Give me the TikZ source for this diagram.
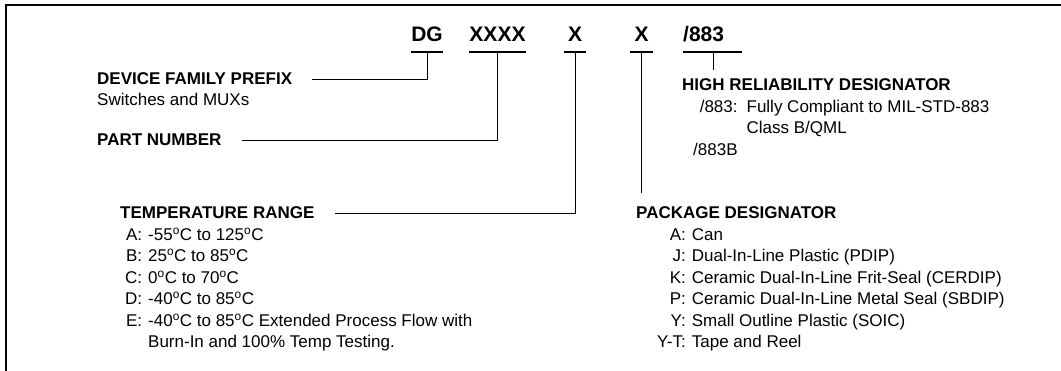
\documentclass[tikz,border=0pt]{standalone}
\usepackage{fontspec}
\setmainfont{Liberation Sans}
\usepackage{tikz}
\usetikzlibrary{positioning}
\newcommand{\degC}{\textsuperscript{o}C}

\begin{document}
\begin{tikzpicture}[
  x=1pt,y=-1pt,
  code/.style={font=\fontsize{21}{21}\selectfont\bfseries,inner sep=0pt,anchor=base},
  head/.style={font=\fontsize{17}{21.5}\selectfont\bfseries,inner sep=0pt,text height=12pt,text depth=0pt,anchor=base west},
  list/.style={font=\fontsize{17}{21.5}\selectfont,inner sep=0pt,anchor=base west},
  uline/.style={line width=1.3pt},
  conn/.style={line width=0.9pt},
  frame/.style={line width=2pt}
]
\useasboundingbox (0,0) rectangle (1061,371);
\draw[frame] (6,371) -- (6,5) -- (1061,5);

% ordering code
\node[code] (dg) at (427,42) {DG};
\node[code] (part) at (497.5,42) {XXXX};
\node[code,minimum width=22pt] (temp) at (575,42) {X};
\node[code,minimum width=23pt] (pkg) at (641.5,42) {X};
\node[code,anchor=base west] (rel) at (683,42) {/883};
\foreach \n in {dg,part,temp,pkg}
  \draw[uline] ([yshift=-10pt]\n.base west) -- ([yshift=-10pt]\n.base east);
\draw[uline] ([yshift=-10pt]rel.base west) -- ++(59,0);
\coordinate (dgtick) at ([yshift=-10pt]dg.base);
\coordinate (parttick) at ([yshift=-10pt]part.base);
\coordinate (temptick) at ([yshift=-10pt]temp.base);
\coordinate (pkgtick) at ([yshift=-10pt]pkg.base);
\coordinate (reltick) at ([xshift=30pt,yshift=-10pt]rel.base west);

% fields
\node[head] (prefix) at (97,85) {DEVICE FAMILY PREFIX};
\node[list] (family) at (97,106) {Switches and MUXs};
\node[head] (number) at (97,146) {PART NUMBER};
\node[head] (range) at (120,219) {TEMPERATURE RANGE};
\node[list] (ranges) at (125,240.5) {\begin{tabular}[t]{@{}r@{\hspace{6pt}}l@{}}
  A: & -55\degC{} to 125\degC\\
  B: & 25\degC{} to 85\degC\\
  C: & 0\degC{} to 70\degC\\
  D: & -40\degC{} to 85\degC\\
  E: & -40\degC{} to 85\degC{} Extended Process Flow with\\
     & Burn-In and 100\% Temp Testing.
\end{tabular}};
\node[head] (reliab) at (682,91) {HIGH RELIABILITY DESIGNATOR};
\node[list] (grades) at (693,112.5) {\begin{tabular}[t]{@{}r@{\hspace{9pt}}l@{}}
  /883: & Fully Compliant to MIL-STD-883\\
        & Class B/QML\\
  /883B &
\end{tabular}};
\node[head] (package) at (636,219) {PACKAGE DESIGNATOR};
\node[list] (packages) at (657,240.5) {\begin{tabular}[t]{@{}r@{\hspace{6pt}}l@{}}
  A: & Can\\
  J: & Dual-In-Line Plastic (PDIP)\\
  K: & Ceramic Dual-In-Line Frit-Seal (CERDIP)\\
  P: & Ceramic Dual-In-Line Metal Seal (SBDIP)\\
  Y: & Small Outline Plastic (SOIC)\\
  Y-T: & Tape and Reel
\end{tabular}};

% leaders
\draw[conn,shorten >=20pt] (dgtick) |- (prefix.east);
\draw[conn,shorten >=20pt] (parttick) |- (number.east);
\draw[conn,shorten >=20pt] (temptick) |- (range.east);
\draw[conn,shorten >=14pt] (pkgtick) -- (pkgtick |- package.north);
\draw[conn,shorten >=9pt] (reltick) -- (reltick |- reliab.north);
\end{tikzpicture}
\end{document}
